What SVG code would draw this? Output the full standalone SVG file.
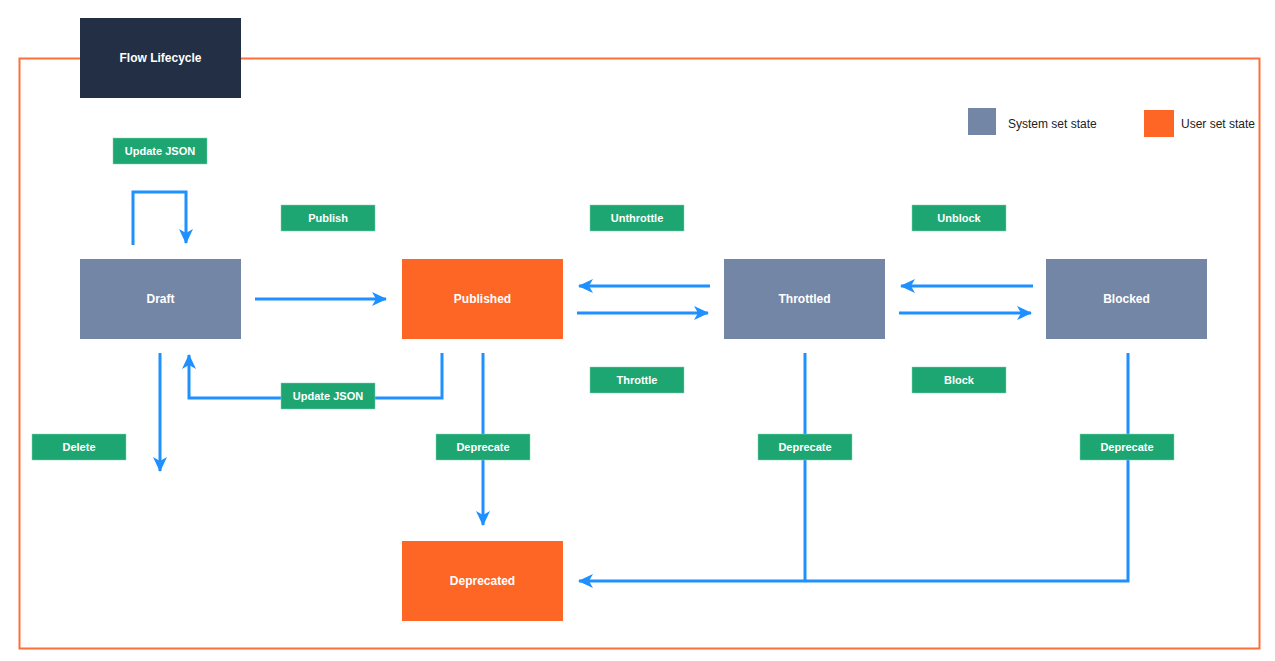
<svg xmlns="http://www.w3.org/2000/svg" width="1275" height="661" viewBox="0 0 1275 661">
<defs>
<marker id="arr" markerUnits="userSpaceOnUse" markerWidth="16" markerHeight="14" viewBox="0 0 16 14" refX="14" refY="7" orient="auto">
<path d="M0,0 L15,7 L0,14 L4,7 Z" fill="#1e90ff"/>
</marker>
<style>
.node rect{stroke:none}
.sys{fill:#7486a5}
.usr{fill:#fd6624}
.nt{font-family:"Liberation Sans",Arial,sans-serif;font-size:12px;font-weight:bold;fill:#ffffff;text-anchor:middle;dominant-baseline:central}
.lbl rect{fill:#1ea672;stroke:#7fd1b0;stroke-width:0.5}
.lt{font-family:"Liberation Sans",Arial,sans-serif;font-size:11px;font-weight:bold;fill:#ffffff;text-anchor:middle;dominant-baseline:central}
.c{fill:none;stroke:#1e90ff;stroke-width:3}
.leg{font-family:"Liberation Sans",Arial,sans-serif;font-size:12px;fill:#222;dominant-baseline:central}
</style>
</defs>
<rect width="1275" height="661" fill="#ffffff"/>
<rect id="frame" x="19.5" y="58.5" width="1240" height="590" fill="none" stroke="#fd6e3a" stroke-width="2"/>
<g id="title"><rect x="80" y="18" width="161" height="80" fill="#222f44"/><text class="nt" x="160.5" y="58">Flow Lifecycle</text></g>
<g id="legend">
<rect x="968" y="108" width="28" height="27" fill="#7486a5"/><text class="leg" x="1008" y="124">System set state</text>
<rect x="1144" y="110" width="30" height="27" fill="#fd6624"/><text class="leg" x="1181" y="124">User set state</text>
</g>
<g id="connectors">
<path class="c" d="M133,245 V192 H186 V243" marker-end="url(#arr)"/>
<path class="c" d="M255,299 H386" marker-end="url(#arr)"/>
<path class="c" d="M710,286 H579" marker-end="url(#arr)"/>
<path class="c" d="M577,313 H708" marker-end="url(#arr)"/>
<path class="c" d="M1033,286 H901" marker-end="url(#arr)"/>
<path class="c" d="M899,313 H1031" marker-end="url(#arr)"/>
<path class="c" d="M442,353 V398 H189 V355" marker-end="url(#arr)"/>
<path class="c" d="M160,353 V471" marker-end="url(#arr)"/>
<path class="c" d="M483,353 V525" marker-end="url(#arr)"/>
<path class="c" d="M805,353 V581"/>
<path class="c" d="M1128,353 V581 H579" marker-end="url(#arr)"/>
</g>
<g id="draft" class="node"><rect class="sys" x="80" y="259" width="161" height="80"/><text class="nt" x="160.5" y="299">Draft</text></g>
<g id="published" class="node"><rect class="usr" x="402" y="259" width="161" height="80"/><text class="nt" x="482.5" y="299">Published</text></g>
<g id="throttled" class="node"><rect class="sys" x="724" y="259" width="161" height="80"/><text class="nt" x="804.5" y="299">Throttled</text></g>
<g id="blocked" class="node"><rect class="sys" x="1046" y="259" width="161" height="80"/><text class="nt" x="1126.5" y="299">Blocked</text></g>
<g id="deprecated" class="node"><rect class="usr" x="402" y="541" width="161" height="80"/><text class="nt" x="482.5" y="581">Deprecated</text></g>
<g id="lbl-update1" class="lbl"><rect x="113" y="138" width="94" height="26"/><text class="lt" x="160" y="151">Update JSON</text></g>
<g id="lbl-publish" class="lbl"><rect x="281" y="205" width="94" height="26"/><text class="lt" x="328" y="218">Publish</text></g>
<g id="lbl-unthrottle" class="lbl"><rect x="590" y="205" width="94" height="26"/><text class="lt" x="637" y="218">Unthrottle</text></g>
<g id="lbl-unblock" class="lbl"><rect x="912" y="205" width="94" height="26"/><text class="lt" x="959" y="218">Unblock</text></g>
<g id="lbl-update2" class="lbl"><rect x="281" y="383" width="94" height="26"/><text class="lt" x="328" y="396">Update JSON</text></g>
<g id="lbl-throttle" class="lbl"><rect x="590" y="367" width="94" height="26"/><text class="lt" x="637" y="380">Throttle</text></g>
<g id="lbl-block" class="lbl"><rect x="912" y="367" width="94" height="26"/><text class="lt" x="959" y="380">Block</text></g>
<g id="lbl-delete" class="lbl"><rect x="32" y="434" width="94" height="26"/><text class="lt" x="79" y="447">Delete</text></g>
<g id="lbl-dep1" class="lbl"><rect x="436" y="434" width="94" height="26"/><text class="lt" x="483" y="447">Deprecate</text></g>
<g id="lbl-dep2" class="lbl"><rect x="758" y="434" width="94" height="26"/><text class="lt" x="805" y="447">Deprecate</text></g>
<g id="lbl-dep3" class="lbl"><rect x="1080" y="434" width="94" height="26"/><text class="lt" x="1127" y="447">Deprecate</text></g>
</svg>
